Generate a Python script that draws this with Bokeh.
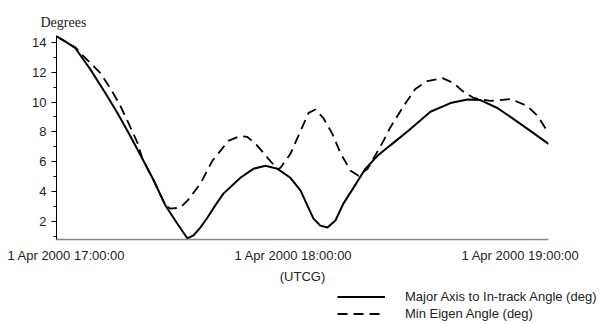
from bokeh.plotting import figure
from bokeh.models import Range1d, FixedTicker, Legend, LegendItem
from bokeh.embed import file_html
from bokeh.resources import INLINE

# minutes after 1 Apr 2000 17:00:00 (UTCG)
major_t = [-2.6, -0.3, 2.4, 6.3, 10.3, 13.5, 16.9, 20.1, 23.0, 26.2, 29.3, 32.0, 33.6,
           35.4, 37.3, 39.4, 41.5, 46.0, 49.4, 52.6, 55.8, 59.2, 61.9, 63.7, 65.3, 67.1,
           69.0, 71.1, 73.2, 75.9, 79.0, 82.2, 85.6, 88.3, 90.9, 96.2, 101.5, 106.0,
           109.4, 113.9, 118.1, 122.6, 127.4]
major_v = [14.4, 14.05, 13.6, 12.2, 10.6, 9.27, 7.73, 6.2, 4.8, 3.07, 1.87, 0.87, 1.07,
           1.6, 2.27, 3.1, 3.87, 4.93, 5.53, 5.73, 5.53, 4.93, 4.07, 3.07, 2.2, 1.73,
           1.6, 2.07, 3.2, 4.27, 5.53, 6.4, 7.1, 7.65, 8.2, 9.35, 9.93, 10.17,
           10.13, 9.6, 8.87, 8.07, 7.2]

eigen_t = [-2.6, -0.3, 2.4, 4.5, 9.0, 11.6, 14.3, 16.4, 18.8, 20.1, 23.0, 26.2, 27.5,
           30.1, 32.0, 35.4, 38.6, 40.7, 42.8, 46.0, 47.8, 50.5, 53.4, 55.8, 56.6, 59.2,
           61.9, 64.0, 65.8, 67.9, 70.3, 72.4, 75.1, 77.2, 79.6, 83.8, 85.6, 89.1, 92.2,
           95.4, 99.4, 102.3, 104.7, 107.6, 112.1, 117.4, 121.8, 124.5, 127.4]
eigen_v = [14.4, 14.05, 13.65, 13.07, 11.93, 10.93, 9.73, 8.6, 7.27, 6.2, 4.8, 3.07, 2.87,
           2.93, 3.4, 4.53, 6.07, 6.73, 7.4, 7.73, 7.67, 7.07, 6.2, 5.5, 5.6, 6.53,
           8.07, 9.27, 9.5, 8.93, 7.87, 6.6, 5.4, 5.07, 5.53, 7.4, 8.3, 9.73, 10.87,
           11.4, 11.6, 11.27, 10.73, 10.27, 10.07, 10.2, 9.73, 9.07, 7.93]

tick_pos = [0, 60, 120]
tick_labels = ["1 Apr 2000 17:00:00", "1 Apr 2000 18:00:00", "1 Apr 2000 19:00:00"]
y_ticks = [2, 4, 6, 8, 10, 12, 14]
y_minor = [1, 3, 5, 7, 9, 11, 13]
series_names = ["Major Axis to In-track Angle (deg)", "Min Eigen Angle (deg)"]

SANS = "Liberation Sans"
TXT = "#222222"
SOLID = dict(line_color="black", line_width=2)
DASHED = dict(line_color="black", line_width=1.8, line_dash="10 6")

p = figure(width=604, height=287, output_backend="svg", toolbar_location=None,
           x_range=Range1d(min(major_t), max(major_t)),
           y_range=Range1d(0.8, 14.45),
           min_border_left=56, min_border_right=56, min_border_top=35, min_border_bottom=48,
           title="Degrees")
p.title.text_font = "Liberation Serif"
p.title.text_font_size = "14px"
p.title.text_font_style = "normal"
p.title.text_color = TXT
p.title.align = "left"
p.title.offset = -16
p.title.standoff = 12

p.outline_line_color = None
p.background_fill_color = "white"
p.border_fill_color = "white"
p.grid.visible = False

p.line(major_t, major_v, **SOLID)
p.line(eigen_t, eigen_v, **DASHED)

xa = p.xaxis[0]
xa.ticker = FixedTicker(ticks=tick_pos)
xa.major_label_overrides = {t: l for t, l in zip(tick_pos, tick_labels)}
xa.major_tick_line_color = None
xa.minor_tick_line_color = None
xa.axis_line_color = "#888888"
xa.axis_line_width = 1.5
xa.major_label_text_font = SANS
xa.major_label_text_font_size = "13px"
xa.major_label_text_color = TXT
xa.major_label_standoff = 2
xa.axis_label = "(UTCG)"
xa.axis_label_text_font = SANS
xa.axis_label_text_font_size = "13px"
xa.axis_label_text_font_style = "normal"
xa.axis_label_text_color = TXT
xa.axis_label_standoff = 3

ya = p.yaxis[0]
ya.ticker = FixedTicker(ticks=y_ticks, minor_ticks=y_minor)
ya.axis_line_color = "black"
ya.major_tick_line_color = "black"
ya.minor_tick_line_color = "black"
ya.major_tick_out = 5
ya.major_tick_in = 0
ya.minor_tick_out = 3
ya.minor_tick_in = 0
ya.major_label_text_font = SANS
ya.major_label_text_font_size = "13px"
ya.major_label_text_color = TXT
ya.major_label_standoff = 5

# legend strip below the chart (separate root, so frames are not aligned)
q = figure(width=604, height=37, output_backend="svg", toolbar_location=None,
           x_range=Range1d(0, 1), y_range=Range1d(0, 1),
           min_border=0, min_border_left=0, min_border_right=0,
           min_border_top=0, min_border_bottom=0)
q.axis.visible = False
q.grid.visible = False
q.outline_line_color = None
q.background_fill_color = "white"
q.border_fill_color = "white"
# single-point lines: draw nothing in the strip, only provide the legend glyph styles
k1 = q.line(x=major_t[:1], y=major_v[:1], **SOLID)
k2 = q.line(x=eigen_t[:1], y=eigen_v[:1], **DASHED)

legend = Legend(items=[LegendItem(label=series_names[0], renderers=[k1]),
                       LegendItem(label=series_names[1], renderers=[k2])],
                location=(337, 3), orientation="vertical")
legend.border_line_color = None
legend.background_fill_alpha = 0
legend.padding = 0
legend.margin = 0
legend.spacing = 2
legend.glyph_width = 48
legend.glyph_height = 15
legend.label_height = 15
legend.label_standoff = 20
legend.label_text_font = SANS
legend.label_text_font_size = "13px"
legend.label_text_color = TXT
q.add_layout(legend)

open("out.html", "w").write(file_html([p, q], INLINE))
